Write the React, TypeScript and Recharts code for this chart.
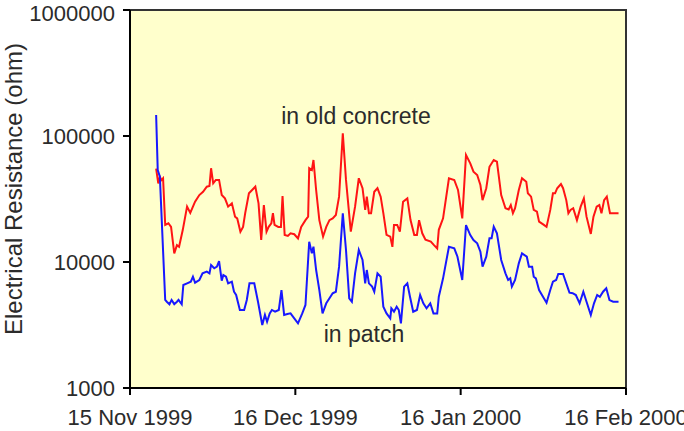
import { CartesianGrid, Line, LineChart, ReferenceArea, XAxis, YAxis } from "recharts";

// x values are days after 15 Nov 1999
const tickDays = [0, 31, 62, 93];
const tickLabels = ["15 Nov 1999", "16 Dec 1999", "16 Jan 2000", "16 Feb 2000"];
const ohmTicks = [1000, 10000, 100000, 1000000];

const oldConcreteDays = [
  4.9, 5.3, 5.6, 5.9, 6.2, 6.6, 7.2, 7.7, 8.3, 8.8,
  9.2, 9.9, 10.7, 11.3, 12.2, 13.0, 13.7, 14.4, 14.9, 15.2,
  15.6, 16.1, 16.7, 17.2, 17.8, 18.4, 19.1, 19.7, 20.1, 20.7,
  21.2, 21.6, 22.3, 22.9, 23.5, 24.1, 24.6, 25.1, 25.6, 26.0,
  26.5, 26.8, 27.1, 27.8, 28.3, 28.6, 29.0, 29.6, 30.1, 30.8,
  31.5, 32.1, 32.9, 33.4, 33.6, 34.1, 34.4, 34.9, 35.5, 36.2,
  36.8, 37.4, 38.0, 38.6, 39.2, 39.9, 40.5, 41.4, 42.2, 42.9,
  43.6, 44.1, 44.4, 44.8, 45.2, 45.8, 46.4, 47.0, 47.5, 48.1,
  48.8, 49.2, 49.5, 50.1, 50.6, 51.2, 52.0, 52.6, 53.3, 53.8,
  54.2, 54.8, 55.4, 56.4, 57.0, 57.6, 57.9, 58.7, 59.8, 60.8,
  61.5, 62.3, 63.0, 63.8, 64.4, 65.1, 65.7, 66.1, 66.8, 67.4,
  68.2, 68.8, 69.6, 70.4, 71.0, 71.4, 71.8, 72.2, 72.9, 73.5,
  74.3, 74.6, 75.2, 75.7, 76.3, 76.7, 77.6, 78.1, 78.8, 79.3,
  79.7, 80.1, 80.8, 81.2, 81.8, 82.2, 82.6, 83.1, 83.8, 84.5,
  85.1, 85.6, 86.4, 86.9, 87.5, 88.0, 88.4, 88.9, 89.4, 90.0,
  90.9, 91.6,
];
const oldConcreteOhm = [
  55000, 42000, 47500, 44700, 46200, 19700, 20300, 19000, 11700, 13600,
  13200, 18000, 27500, 24500, 30100, 34000, 36100, 39600, 40100, 55500,
  42100, 44800, 44800, 34000, 32000, 27500, 29200, 22900, 22200, 17400,
  19000, 24400, 35100, 37300, 39600, 29200, 15000, 28300, 17400, 19000,
  20300, 24400, 19700, 19000, 19000, 33400, 16400, 16100, 16900, 16600,
  15400, 19000, 21500, 22900, 55500, 53700, 64500, 37300, 21500, 15900,
  19000, 21500, 22200, 23600, 33000, 105000, 44800, 17400, 27500, 46200,
  38500, 25900, 33000, 24400, 24400, 36100, 38500, 33000, 24400, 16400,
  15900, 13200, 19700, 19700, 17400, 30100, 32000, 21500, 16400, 16400,
  21500, 16900, 15000, 14500, 13600, 12800, 18000, 22200, 46200, 44800,
  37300, 22200, 70700, 60700, 52100, 49000, 40800, 31000, 38500, 57000,
  64500, 62500, 34000, 26700, 26100, 28300, 24400, 26700, 37300, 46200,
  43400, 35100, 33000, 25900, 25100, 20900, 19700, 19000, 25900, 35100,
  35100, 38500, 41600, 38500, 31000, 24400, 25900, 26700, 21500, 27500,
  32000, 22900, 16700, 22900, 27500, 28300, 24400, 31000, 33000, 24400,
  24400, 24400,
];

const patchDays = [
  4.9, 5.2, 5.6, 6.6, 6.9, 7.4, 7.8, 8.3, 8.8, 9.1,
  9.7, 10.0, 10.7, 11.4, 11.8, 12.2, 13.0, 13.6, 14.4, 14.9,
  15.2, 15.8, 16.3, 16.7, 17.2, 17.5, 18.0, 18.4, 19.1, 19.5,
  19.9, 20.6, 21.4, 21.9, 22.4, 23.3, 24.0, 24.8, 25.3, 25.7,
  26.2, 26.6, 27.2, 27.9, 28.4, 28.9, 29.5, 30.1, 30.8, 31.5,
  32.3, 32.9, 33.6, 34.1, 34.4, 34.9, 35.5, 36.1, 36.8, 37.4,
  38.0, 38.6, 39.2, 39.9, 40.5, 41.1, 41.6, 42.2, 42.9, 43.6,
  44.1, 44.4, 44.8, 45.4, 45.8, 46.4, 47.0, 47.5, 48.1, 48.8,
  49.0, 49.5, 50.0, 50.4, 50.8, 51.4, 52.0, 52.5, 53.1, 53.8,
  54.4, 55.0, 55.6, 56.3, 56.9, 57.6, 57.9, 58.7, 59.8, 60.8,
  61.4, 62.3, 63.0, 63.8, 64.4, 65.1, 65.7, 66.1, 66.8, 67.4,
  67.8, 68.2, 68.8, 69.6, 70.4, 70.9, 71.3, 71.6, 72.2, 72.9,
  73.5, 74.4, 74.8, 75.4, 75.7, 76.1, 76.7, 77.6, 78.1, 78.8,
  79.3, 79.9, 80.3, 81.2, 81.8, 82.4, 83.0, 83.6, 84.3, 85.0,
  85.6, 86.4, 87.0, 87.6, 88.1, 88.7, 89.3, 89.9, 90.6, 91.6,
];
const patchOhm = [
  146800, 53700, 47500, 5000, 4840, 4620, 5000, 4630, 4840, 5000,
  4620, 6570, 6770, 6980, 7640, 6850, 7200, 8130, 8380, 8130,
  9470, 8910, 9180, 10180, 7110, 7880, 7640, 6770, 6980, 5810,
  5470, 4160, 4160, 5000, 6770, 6770, 4840, 3160, 3800, 3360,
  3910, 4160, 4030, 4160, 5990, 3800, 3870, 3910, 3570, 3260,
  3910, 4560, 14490, 11720, 13220, 8640, 5990, 3910, 4700, 5150,
  5650, 5810, 9180, 24360, 12450, 5150, 4840, 8130, 12450, 10370,
  6770, 8640, 6770, 6370, 5810, 8130, 7640, 4420, 3910, 3570,
  4290, 4030, 4420, 4160, 3260, 6370, 6770, 5300, 4030, 4160,
  5470, 4700, 4290, 4700, 3910, 3910, 5300, 7420, 13220, 12840,
  11020, 7200, 19650, 16370, 14950, 14070, 12070, 9180, 11020, 15420,
  15420, 19050, 16890, 10370, 8130, 7200, 7420, 6370, 7200, 9760,
  11720, 11020, 9180, 9180, 7640, 7420, 5990, 5150, 4750, 5990,
  6980, 7200, 8030, 8030, 6770, 5710, 5650, 5470, 4700, 5810,
  4840, 3800, 4700, 5470, 5300, 5810, 6180, 4990, 4840, 4840,
];

const oldConcreteData = oldConcreteDays.map((day, i) => ({ day, ohm: oldConcreteOhm[i] }));
const patchData = patchDays.map((day, i) => ({ day, ohm: patchOhm[i] }));

const font = "'Liberation Sans', Arial, sans-serif";
const textColor = "#2b2b2b";

export default function App() {
  return (
    <div style={{ position: "absolute", left: 0, top: 0, width: 684, height: 431, fontFamily: font }}>
      <LineChart width={684} height={431} margin={{ top: 10, right: 58, bottom: 0, left: 0 }}>
        <CartesianGrid fill="#FFFFCC" horizontal={false} vertical={false} />
        <ReferenceArea x1={0} x2={93} y1={1000} y2={1000000} fill="none" stroke="#333" strokeWidth={2} />
        <XAxis
          type="number"
          dataKey="day"
          domain={[0, 93]}
          ticks={tickDays}
          tickFormatter={(d) => tickLabels[tickDays.indexOf(d)]}
          allowDataOverflow
          height={43}
          tickSize={7}
          tickMargin={14}
          stroke="#000"
          strokeWidth={2}
          tick={{ fill: textColor, fontSize: 22, fontFamily: font }}
        />
        <YAxis
          type="number"
          scale="log"
          domain={[1000, 1000000]}
          ticks={ohmTicks}
          allowDataOverflow
          width={130}
          tickSize={7}
          tickMargin={8}
          stroke="#000"
          strokeWidth={2}
          tick={{ fill: textColor, fontSize: 22, fontFamily: font }}
        />
        <Line
          data={oldConcreteData}
          dataKey="ohm"
          type="linear"
          stroke="#FF1414"
          strokeWidth={2}
          dot={false}
          isAnimationActive={false}
        />
        <Line
          data={patchData}
          dataKey="ohm"
          type="linear"
          stroke="#1818FF"
          strokeWidth={2}
          dot={false}
          isAnimationActive={false}
        />
      </LineChart>
      <svg
        width={684}
        height={431}
        style={{ position: "absolute", left: 0, top: 0, pointerEvents: "none" }}
      >
        <text x={356} y={124} textAnchor="middle" fontSize={23} fill={textColor} fontFamily={font}>
          in old concrete
        </text>
        <text x={364} y={342} textAnchor="middle" fontSize={23} fill={textColor} fontFamily={font}>
          in patch
        </text>
        <text
          x={22}
          y={189}
          transform="rotate(-90 22 189)"
          textAnchor="middle"
          fontSize={24}
          fill={textColor}
          fontFamily={font}
        >
          Electrical Resistance (ohm)
        </text>
      </svg>
    </div>
  );
}
